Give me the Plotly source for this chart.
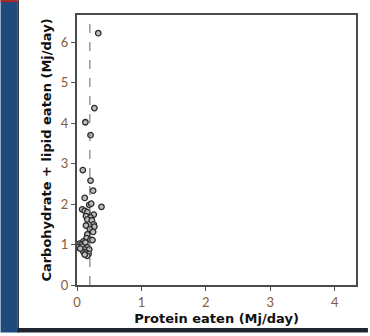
import plotly.graph_objects as go

# Daily intake per individual (Mj/day)
protein_eaten = [0.33, 0.27, 0.13, 0.21, 0.09, 0.21, 0.25, 0.12, 0.38, 0.19,
                 0.22, 0.08, 0.12, 0.16, 0.26, 0.14, 0.21, 0.16, 0.23, 0.26,
                 0.27, 0.14, 0.20, 0.25, 0.16, 0.15, 0.21, 0.24, 0.10, 0.04,
                 0.07, 0.13, 0.02, 0.08, 0.16, 0.11, 0.19, 0.10, 0.14, 0.18,
                 0.16, 0.12, 0.05]
carb_lipid_eaten = [6.22, 4.37, 4.02, 3.70, 2.84, 2.58, 2.33, 2.15, 1.93, 1.98,
                    2.01, 1.87, 1.83, 1.80, 1.74, 1.70, 1.67, 1.62, 1.60, 1.50,
                    1.44, 1.47, 1.38, 1.31, 1.25, 1.16, 1.12, 1.11, 1.08, 1.02,
                    1.00, 1.05, 0.93, 0.95, 0.93, 0.88, 0.88, 0.82, 0.80, 0.77,
                    0.72, 0.75, 0.90]
protein_target = 0.2
x_ticks = [0, 1, 2, 3, 4]
y_ticks = [0, 1, 2, 3, 4, 5, 6]

W, H = 370, 336
ML, MR, MT, MB = 77, 12, 15, 48
pw, ph = W - ML - MR, H - MT - MB


def px_to_paper_x(px):
    return (px - ML) / pw


def px_to_paper_y(py):
    return (H - MB - py) / ph


fig = go.Figure()
fig.add_trace(go.Scatter(
    x=protein_eaten, y=carb_lipid_eaten, mode="markers",
    marker=dict(size=5.5, color="#bdbdbd", line=dict(color="#2a2a2a", width=1.3)),
    cliponaxis=False, showlegend=False,
))

shapes = [
    # dashed protein target line
    dict(type="line", xref="x", yref="y", x0=protein_target, x1=protein_target,
         y0=0, y1=6.67, line=dict(color="#666666", width=1, dash="dash")),
    # blue band on the left
    dict(type="rect", xref="paper", yref="paper", layer="below",
         x0=px_to_paper_x(0), x1=px_to_paper_x(17),
         y0=px_to_paper_y(336), y1=px_to_paper_y(0),
         fillcolor="#1e4a7e", line=dict(width=0)),
    dict(type="rect", xref="paper", yref="paper", layer="below",
         x0=px_to_paper_x(17), x1=px_to_paper_x(18.5),
         y0=px_to_paper_y(336), y1=px_to_paper_y(0),
         fillcolor="#222222", line=dict(width=0)),
    dict(type="rect", xref="paper", yref="paper", layer="below",
         x0=px_to_paper_x(0), x1=px_to_paper_x(17),
         y0=px_to_paper_y(2), y1=px_to_paper_y(0),
         fillcolor="#b02020", line=dict(width=0)),
    # dark strip along the bottom
    dict(type="rect", xref="paper", yref="paper", layer="below",
         x0=px_to_paper_x(17), x1=px_to_paper_x(370),
         y0=px_to_paper_y(336), y1=px_to_paper_y(331.5),
         fillcolor="#1e2530", line=dict(width=0)),
]

axis_common = dict(
    showgrid=False, zeroline=False, showline=True, mirror=True,
    linecolor="#4a4a4a", linewidth=2, ticks="outside", ticklen=4,
    tickwidth=1, tickcolor="#555555",
    tickfont=dict(family="Lato, sans-serif", size=13, color="#8a5a3a"),
)

title_font = dict(family="DejaVu Sans, sans-serif", size=13, color="#111111")

fig.update_layout(
    width=W, height=H, margin=dict(l=ML, r=MR, t=MT, b=MB),
    paper_bgcolor="white", plot_bgcolor="white",
    shapes=shapes,
    xaxis=dict(range=[0, 4.33], tickvals=x_ticks,
               title=dict(text="<b>Protein eaten (Mj/day)</b>", standoff=5,
                          font=title_font),
               **axis_common),
    yaxis=dict(range=[0, 6.67], tickvals=y_ticks,
               title=dict(text="<b>Carbohydrate + lipid eaten (Mj/day)</b>", standoff=6,
                          font=title_font),
               **axis_common),
)

fig.write_html("out.html")
